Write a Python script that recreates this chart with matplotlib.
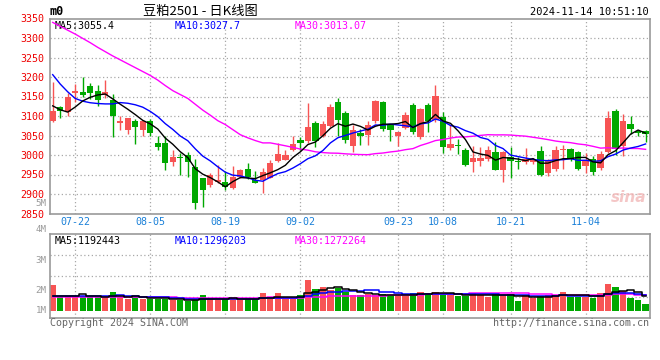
import numpy as np
import pandas as pd
import matplotlib
matplotlib.use("Agg")
import matplotlib.pyplot as plt

# ---------------- data ----------------
opens = [3088, 3122, 3109, 3158, 3162, 3177, 3164, 3155, 3141, 3082,
         3065, 3088, 3063, 3086, 3030, 3032, 2981, 2994, 2999, 2969,
         2940, 2922, 2930, 2931, 2916, 2944, 2963, 2935, 2937, 2941,
         2984, 2988, 3012, 3039, 3035, 3083, 3049, 3075, 3136, 3108,
         3024, 3056, 3052, 3086, 3136, 3077, 3050, 3069, 3129, 3047,
         3129, 3090, 3098, 3019, 3025, 3014, 2982, 2985, 2989, 3008,
         2961, 2996, 2985, 2982, 2982, 3010, 2954, 2965, 3014, 3015,
         3007, 2971, 2990, 2966, 3007, 3113, 3022, 3080, 3062, 3062]
highs = [3187, 3126, 3160, 3182, 3200, 3184, 3180, 3192, 3157, 3099,
         3096, 3093, 3089, 3092, 3050, 3048, 3014, 3005, 3007, 2991,
         2941, 2954, 2975, 2958, 2973, 2963, 2980, 2958, 2967, 2988,
         3030, 3014, 3049, 3046, 3134, 3086, 3086, 3130, 3147, 3112,
         3077, 3066, 3086, 3142, 3139, 3080, 3060, 3111, 3134, 3120,
         3133, 3179, 3109, 3076, 3042, 3018, 3023, 3021, 3023, 3034,
         3010, 3021, 2995, 3019, 2992, 3023, 2990, 3022, 3026, 3018,
         3010, 3005, 2997, 3009, 3112, 3118, 3105, 3100, 3065, 3064]
lows = [3084, 3094, 3099, 3137, 3150, 3143, 3126, 3146, 3045, 3065,
        3054, 3029, 3048, 3048, 3014, 2961, 2971, 2950, 2944, 2862,
        2867, 2918, 2928, 2909, 2913, 2942, 2939, 2927, 2903, 2940,
        2982, 2986, 3010, 3012, 3030, 3020, 3045, 3072, 3050, 3030,
        3007, 3026, 3026, 3081, 3062, 3035, 3022, 3066, 3055, 3040,
        3060, 3085, 3005, 3013, 3002, 2972, 2956, 2973, 2985, 2961,
        2931, 2942, 2965, 2978, 2978, 2945, 2945, 2958, 2965, 2985,
        2961, 2954, 2950, 2961, 3005, 3001, 2997, 3055, 3050, 3033]
closes = [3113, 3112, 3150, 3164, 3154, 3160, 3142, 3162, 3101, 3086,
          3096, 3073, 3088, 3056, 3020, 2980, 2994, 2992, 2981, 2877,
          2910, 2950, 2937, 2918, 2944, 2962, 2944, 2929, 2957, 2980,
          3003, 2999, 3029, 3030, 3073, 3035, 3080, 3124, 3090, 3039,
          3064, 3050, 3077, 3138, 3066, 3064, 3058, 3103, 3060, 3118,
          3088, 3151, 3020, 3029, 3023, 2974, 2993, 2993, 3012, 2962,
          3008, 2984, 2982, 2991, 2989, 2948, 2986, 3014, 3015, 2990,
          2964, 2986, 2956, 3003, 3095, 3015, 3088, 3066, 3056, 3054]
volumes_m = [2.07, 1.07, 1.19, 1.13, 1.19, 1.19, 1.13, 1.07, 1.51, 1.07,
             0.94, 1.19, 0.94, 0.94, 0.94, 0.94, 0.86, 0.86, 0.81, 0.86,
             1.27, 0.94, 0.86, 0.94, 0.94, 0.86, 0.94, 0.94, 1.45, 0.94,
             1.45, 0.94, 0.94, 1.27, 2.48, 1.75, 1.94, 1.67, 1.83, 1.53,
             1.27, 1.27, 1.35, 1.27, 1.35, 1.27, 1.19, 1.19, 1.45, 1.53,
             1.45, 1.53, 1.27, 1.27, 1.19, 1.19, 1.45, 1.27, 1.13, 1.35,
             1.27, 1.35, 0.81, 1.27, 0.99, 1.19, 1.27, 1.27, 1.53, 1.13,
             1.13, 1.13, 0.99, 1.45, 2.15, 1.94, 1.61, 1.05, 0.86, 0.54]

ma5_head = [3126, 3116, 3110, 3123]
ma10_head = [3206, 3182, 3162, 3145, 3138, 3134, 3132, 3131, 3131]
ma30_head = [3340, 3330, 3320, 3310, 3299, 3288, 3276, 3265, 3254, 3244,
             3234, 3224, 3214, 3204, 3192, 3178, 3165, 3155, 3145, 3130,
             3115, 3102, 3088, 3078, 3065, 3052, 3044, 3037, 3031]
vma5_head = [1.21, 1.21, 1.21, 1.17]
vma10_head = [1.19, 1.19, 1.18, 1.18, 1.18, 1.17, 1.17, 1.17, 1.16]
vma30_head = [1.12, 1.12, 1.12, 1.11, 1.11, 1.11, 1.10, 1.10, 1.10, 1.10,
              1.09, 1.09, 1.08, 1.08, 1.08, 1.07, 1.07, 1.06, 1.06, 1.06,
              1.06, 1.05, 1.05, 1.05, 1.05, 1.05, 1.06, 1.06, 1.06]

date_labels = ["07-22", "08-05", "08-19", "09-02", "09-23", "10-08", "10-21", "11-04"]
date_index = [3, 13, 23, 33, 46, 52, 61, 71]
price_ticks = [3350, 3300, 3250, 3200, 3150, 3100, 3050, 3000, 2950, 2900, 2850]
vol_labels = ["5M", "4M", "3M", "2M", "1M"]

ma_legend = ["MA5:3055.4", "MA10:3027.7", "MA30:3013.07"]
vol_legend = ["MA5:1192443", "MA10:1296203", "MA30:1272264"]

# ---------------- helpers ----------------
def moving(series, n, head):
    out = pd.Series(series, dtype=float).rolling(n).mean().to_numpy()
    out[:len(head)] = head
    return out

RED = "#f75454"
GREEN = "#00a800"
GRID = "#a8a8a8"
BORDER = "#999999"
MONO = "DejaVu Sans Mono"
W, H = 660, 360

def fx(px):
    return px / W

def fy(py):
    return 1 - py / H

x = np.arange(len(closes))
up = np.array(closes) >= np.array(opens)
colors = [RED if u else GREEN for u in up]

ma5 = moving(closes, 5, ma5_head)
ma10 = moving(closes, 10, ma10_head)
ma30 = moving(closes, 30, ma30_head)
vma5 = moving(volumes_m, 5, vma5_head)
vma10 = moving(volumes_m, 10, vma10_head)
vma30 = moving(volumes_m, 30, vma30_head)

fig = plt.figure(figsize=(6.6, 3.6), dpi=100)
fig.patch.set_facecolor("white")

ax = fig.add_axes([fx(50), fy(213.5), fx(599.5), (213.5 - 18.5) / H])
axv = fig.add_axes([fx(50), fy(318.3), fx(599.5), (318.3 - 234.3) / H])

xlim = (-0.36, 79.52)

# ---------------- price panel ----------------
for xi in date_index:
    ax.axvline(xi, color=GRID, lw=0.9, ls=(0, (1, 2)), zorder=0)
for p in price_ticks[1:-1]:
    ax.axhline(p, color=GRID, lw=0.9, ls=(0, (1, 2)), zorder=0)

ax.vlines(x, lows, highs, colors=colors, lw=1, zorder=2)
body_bottom = np.minimum(opens, closes)
body_h = np.maximum(np.abs(np.array(closes) - np.array(opens)), 1.5)
ax.bar(x, body_h, bottom=body_bottom, width=0.84, color=colors, lw=0, zorder=3)

ax.plot(x, ma30, color="#ff00ff", lw=1, zorder=4)
ax.plot(x, ma10, color="#0000ff", lw=1, zorder=4)
ax.plot(x, ma5, color="black", lw=1, zorder=5)

ax.set_xlim(*xlim)
ax.set_ylim(2850, 3350)
ax.set_yticks(price_ticks)
ax.set_yticklabels([str(p) for p in price_ticks], color="#ee0000",
                   fontsize=7.2, family=MONO)
ax.set_xticks(date_index)
ax.set_xticklabels(date_labels, color="#1a80d8", fontsize=7.2, family=MONO)
ax.tick_params(axis="both", length=0)
ax.tick_params(axis="y", pad=4)
ax.tick_params(axis="x", pad=2.5)
for s in ax.spines.values():
    s.set_color(BORDER)
    s.set_linewidth(1.2)

ax.text(0.008, 0.985, ma_legend[0], transform=ax.transAxes, color="black",
        fontsize=7.2, family=MONO, va="top", ha="left")
ax.text(0.208, 0.985, ma_legend[1], transform=ax.transAxes, color="#0000ff",
        fontsize=7.2, family=MONO, va="top", ha="left")
ax.text(0.408, 0.985, ma_legend[2], transform=ax.transAxes, color="#ff00ff",
        fontsize=7.2, family=MONO, va="top", ha="left")

# watermark
ax.text(0.965, 0.08, "sina", transform=ax.transAxes, color="#f2b8b8",
        fontsize=11, fontstyle="italic", fontweight="bold", ha="center",
        va="center", alpha=0.8, zorder=1)

# ---------------- volume panel ----------------
for xi in date_index:
    axv.axvline(xi, color=GRID, lw=0.9, ls=(0, (1, 2)), zorder=0)
for f in (0.25, 0.5, 0.75):
    axv.plot([0, 1], [f, f], transform=axv.transAxes, color=GRID, lw=0.9,
             ls=(0, (1, 2)), zorder=0)

axv.bar(x, volumes_m, width=0.84, color=colors, lw=0, zorder=2)
axv.plot(x, vma30, color="#ff00ff", lw=1.1, drawstyle="steps-mid", zorder=3)
axv.plot(x, vma10, color="#0000ff", lw=1.1, drawstyle="steps-mid", zorder=4)
axv.plot(x, vma5, color="black", lw=1.1, drawstyle="steps-mid", zorder=5)
axv.set_xlim(*xlim)
axv.set_ylim(-0.613, 6.16)
axv.set_xticks([])
axv.set_yticks([])
for s in axv.spines.values():
    s.set_color(BORDER)
    s.set_linewidth(1.2)

axv.text(0.008, 0.975, vol_legend[0], transform=axv.transAxes, color="black",
         fontsize=7.2, family=MONO, va="top", ha="left")
axv.text(0.208, 0.975, vol_legend[1], transform=axv.transAxes, color="#0000ff",
         fontsize=7.2, family=MONO, va="top", ha="left")
axv.text(0.408, 0.975, vol_legend[2], transform=axv.transAxes, color="#ff00ff",
         fontsize=7.2, family=MONO, va="top", ha="left")

# volume axis labels (as drawn by the source chart)
for lab, py in zip(vol_labels, [203.5, 230, 260.7, 290.7, 310.7]):
    fig.text(fx(46.5), fy(py), lab, color="#999999", fontsize=6.6, family=MONO,
             ha="right", va="center")

# ---------------- header / footer ----------------
fig.text(fx(50), fy(11.5), "m0", fontsize=8.5, family=MONO, fontweight="bold",
         ha="left", va="center")
fig.text(fx(200), fy(11), "豆粕2501 - 日K线图", fontsize=9.5,
         family=["Noto Sans CJK SC", "DejaVu Sans"], ha="center", va="center")
fig.text(fx(649), fy(12), "2024-11-14 10:51:10", fontsize=7.5, family=MONO,
         ha="right", va="center")
fig.text(fx(50), fy(323.5), "Copyright 2024 SINA.COM", fontsize=7.2,
         family=MONO, color="#666666", ha="left", va="center")
fig.text(fx(649), fy(323.5), "http://finance.sina.com.cn", fontsize=7.2,
         family=MONO, color="#666666", ha="right", va="center")

fig.savefig("out.png", dpi=100, facecolor="white")
